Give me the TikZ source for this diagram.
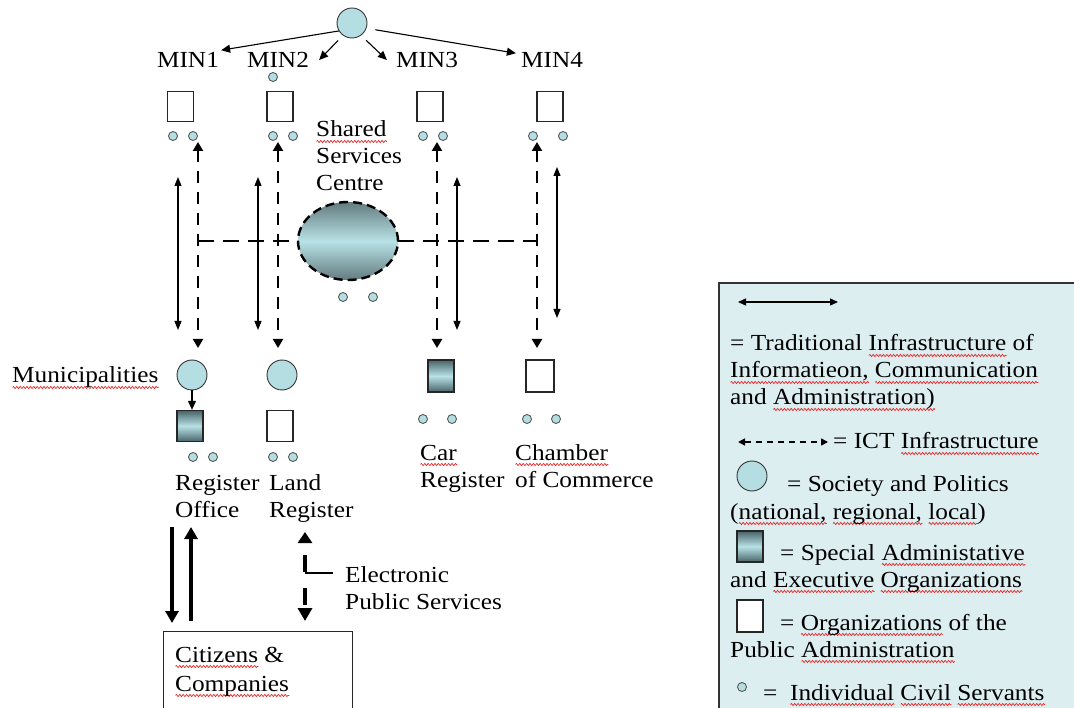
\documentclass[tikz,border=0pt]{standalone}
\usepackage{fontspec}
\setmainfont{Liberation Serif}[FakeStretch=1.1]
\usetikzlibrary{arrows.meta,shapes.geometric,decorations.pathmorphing}

\definecolor{cfill}{RGB}{180,222,226}
\definecolor{lgbg}{RGB}{221,238,241}
\definecolor{shdark}{RGB}{72,100,104}
\definecolor{shlight}{RGB}{184,226,230}
\definecolor{spell}{RGB}{232,40,40}

% red wavy underline for flagged words
\newsavebox\splbox
\newcommand\spl[1]{\sbox\splbox{#1}\rlap{\tikz[baseline=0pt]\draw[spell,line width=0.7pt,decorate,decoration={zigzag,amplitude=1.1pt,segment length=3.4pt}] (0pt,-4.5pt) -- (\wd\splbox,-4.5pt);}\usebox\splbox}

\begin{document}
\begin{tikzpicture}[x=1pt,y=-1pt,
  lbl/.style={font=\fontsize{23}{27}\selectfont, inner sep=0pt, align=left, anchor=base west},
  minlbl/.style={font=\fontsize{23}{27}\selectfont, inner sep=0pt},
  soc/.style={circle, draw=black!80, line width=0.9pt, fill=cfill, minimum size=30pt, inner sep=0pt},
  cs/.style={circle, draw=black!65, line width=0.9pt, fill=cfill, minimum size=9pt, inner sep=0pt},
  orgbox/.style={rectangle, draw=black!85, line width=1.3pt, fill=white, minimum width=26pt, minimum height=30pt, inner sep=0pt},
  specbox/.style={orgbox, top color=shdark, bottom color=shdark, middle color=shlight},
  tip/.style={-{Triangle[width=8pt,length=9pt]}},
  trad/.style={line width=1.1pt, {Triangle[width=7pt,length=9pt]}-{Triangle[width=7pt,length=9pt]}},
  ict/.style={line width=2.4pt, dash pattern=on 12pt off 9pt, {Triangle[width=10pt,length=9pt]}-{Triangle[width=10pt,length=9pt]}},
  icthoriz/.style={line width=2.4pt, dash pattern=on 16pt off 9pt},
  bigarr/.style={line width=4pt, -{Triangle[width=13pt,length=12pt]}},
]
\useasboundingbox (0,0) rectangle (1074,708);

% ---------- ministries ----------
\node[soc] (gov) at (352,23) {};
\node[minlbl] (min1) at (188,60) {MIN1};
\node[minlbl] (min2) at (278,60) {MIN2};
\node[minlbl] (min3) at (427,60) {MIN3};
\node[minlbl] (min4) at (552,60) {MIN4};

\draw[line width=1.1pt, tip] (gov.211) -- ([xshift=2pt,yshift=2pt]min1.north east);
\draw[line width=1.1pt, tip, shorten <=7pt] (gov.234) -- ([xshift=10pt]min2.east);
\draw[line width=1.1pt, tip, shorten <=7pt] (gov.306) -- ([xshift=-9pt]min3.west);
\draw[line width=1.1pt, tip, shorten <=9pt] (gov.340) -- ([xshift=-5pt,yshift=-1pt]min4.north west);

\node[cs] (m2top) at (273,77) {};

\node[orgbox] (b1) at (180.5,106.5) {};
\node[orgbox] (b2) at (280,106.5) {};
\node[orgbox] (b3) at (430,106.5) {};
\node[orgbox] (b4) at (550,106.5) {};

\node[cs] (c1a) at (173,136) {};  \node[cs] (c1b) at (193,136) {};
\node[cs] (c2a) at (273,136) {};  \node[cs] (c2b) at (293,136) {};
\node[cs] (c3a) at (423,136) {};  \node[cs] (c3b) at (443,136) {};
\node[cs] (c4a) at (533,136) {};  \node[cs] (c4b) at (563,136) {};

% multi-line labels are anchored at the baseline of their last line
\node[lbl] (ssclbl) at (316,191) {\spl{Shared}\\Services\\Centre};

% ---------- vertical links ----------
\coordinate (s1t) at (178,177); \coordinate (s1b) at (178,330);
\coordinate (s2t) at (258,177); \coordinate (s2b) at (258,330);
\coordinate (s3t) at (457,177); \coordinate (s3b) at (457,330);
\coordinate (s4t) at (557,167); \coordinate (s4b) at (557,318);

\coordinate (d1t) at (198,142); \coordinate (d1b) at (198,348);
\coordinate (d2t) at (278,142); \coordinate (d2b) at (278,348);
\coordinate (d3t) at (437,142); \coordinate (d3b) at (437,348);
\coordinate (d4t) at (537,142); \coordinate (d4b) at (537,348);

\coordinate (h1) at (198,241);
\coordinate (h2) at (537,241);

\draw[trad] (s1t) -- (s1b);
\draw[trad] (s2t) -- (s2b);
\draw[trad] (s3t) -- (s3b);
\draw[trad] (s4t) -- (s4b);

\draw[ict] (d1t) -- (d1b);
\draw[ict] (d2t) -- (d2b);
\draw[ict] (d3t) -- (d3b);
\draw[ict] (d4t) -- (d4b);

% shared services centre on the ICT backbone
\node[ellipse, minimum width=100pt, minimum height=78pt, inner sep=0pt,
      top color=shdark!85, bottom color=shdark!85, middle color=shlight] (ssc) at (348,241) {};
\draw[icthoriz] (h1) -- (ssc.west);
\draw[icthoriz] (ssc.east) -- (h2);
\draw[line width=2.4pt, dash pattern=on 9pt off 5pt] (ssc.center) ellipse [x radius=50pt, y radius=39pt];

\node[cs] (sca) at (343,297) {};
\node[cs] (scb) at (373,297) {};

% ---------- executing organisations ----------
\node[lbl] (munlbl) at (12,383) {\spl{Municipalities}};
\node[soc] (mun1) at (192,375) {};
\node[soc] (mun2) at (282,375) {};
\node[specbox, minimum height=31pt] (regsq) at (190,426) {};
\node[orgbox, minimum height=31pt] (landsq) at (280,426) {};
\draw[line width=1.1pt, tip] (mun1.south) -- (mun1.south |- regsq.north);

\node[cs] (r1a) at (193,457) {};  \node[cs] (r1b) at (213,457) {};
\node[cs] (r2a) at (273,457) {};  \node[cs] (r2b) at (293,457) {};

\node[specbox, minimum height=32pt] (carsq) at (441,376) {};
\node[orgbox, minimum width=28pt, minimum height=32pt] (chsq) at (540,376) {};
\node[cs] (r3a) at (423,419) {};  \node[cs] (r3b) at (452,419) {};
\node[cs] (r4a) at (527,419) {};  \node[cs] (r4b) at (556,419) {};

\node[lbl] (reglbl) at (175,517) {Register\\Office};
\node[lbl] (landlbl) at (269,517) {Land\\Register};
\node[lbl] (carlbl) at (420,487) {\spl{Car}\\Register};
\node[lbl] (chlbl) at (515,487) {\spl{Chamber}\\of Commerce};

% ---------- citizens ----------
\node[draw=black!85, line width=1.3pt, minimum width=189pt, minimum height=95pt,
      anchor=north west, inner sep=0pt] (cit) at (163,631) {};
\node[lbl, font=\fontsize{23}{29}\selectfont] (citlbl) at (175,691) {\spl{Citizens} \&\\\spl{Companies}};

\coordinate (ro1t) at (172,527); \coordinate (ro1b) at (172,623);
\coordinate (ro2t) at (191,527); \coordinate (ro2b) at (191,621);
\draw[bigarr] (ro1t) -- (ro1b);
\draw[bigarr] (ro2b) -- (ro2t);

\coordinate (et) at (305,532);
\coordinate (eb) at (305,621);
\coordinate (ej) at (305,573);
\node[lbl] (elbl) at (345,609) {Electronic\\Public Services};
\draw[line width=4pt, dash pattern=on 17pt off 16pt, dash phase=20pt,
      {Triangle[width=14pt,length=11pt]}-{Triangle[width=14pt,length=13pt]}] (et) -- (eb);
\draw[line width=1.8pt, shorten >=12pt] (ej) -- (ej -| elbl.west);

% ---------- legend ----------
\node[draw=black!80, line width=1.6pt, fill=lgbg, anchor=north west,
      minimum width=420pt, minimum height=480pt, inner sep=0pt] (legend) at (718,282) {};

\coordinate (la) at (738,302); \coordinate (lb) at (838,302);
\draw[line width=1.3pt, {Triangle[width=7pt,length=8pt]}-{Triangle[width=7pt,length=8pt]}] (la) -- (lb);
\node[lbl] (lg1) at (730,405) {= Traditional \spl{Infrastructure} of\\\spl{Informatieon,} \spl{Communication}\\and \spl{Administration)}};

\coordinate (lc) at (738,442); \coordinate (ld) at (828,442);
\draw[line width=1.6pt, dash pattern=on 6pt off 5pt, {Triangle[width=7pt,length=7pt]}-{Triangle[width=7pt,length=7pt]}] (lc) -- (ld);
\node[lbl] (lg2) at (833,449) {= ICT \spl{Infrastructure}};

\node[soc] (lgsoc) at (752,476) {};
\node[lbl] (lg3) at (787,491) {= Society and Politics};
\node[lbl] (lg3b) at (730,519) {(\spl{national,} \spl{regional,} \spl{local})};

\node[specbox, minimum height=31pt] (lgspec) at (750,546.5) {};
\node[lbl] (lg4) at (780,560) {= Special \spl{Administative}};
\node[lbl] (lg4b) at (730,587) {and \spl{Executive} \spl{Organizations}};

\node[orgbox, minimum height=32pt] (lgorg) at (750,616) {};
\node[lbl] (lg5) at (780,630) {= \spl{Organizations} of the};
\node[lbl] (lg5b) at (730,657) {Public \spl{Administration}};

\node[cs] (lgcs) at (742,687) {};
\node[lbl] (lg6) at (763,700) {=\ \ \spl{Individual} \spl{Civil} \spl{Servants}};
\end{tikzpicture}
\end{document}
